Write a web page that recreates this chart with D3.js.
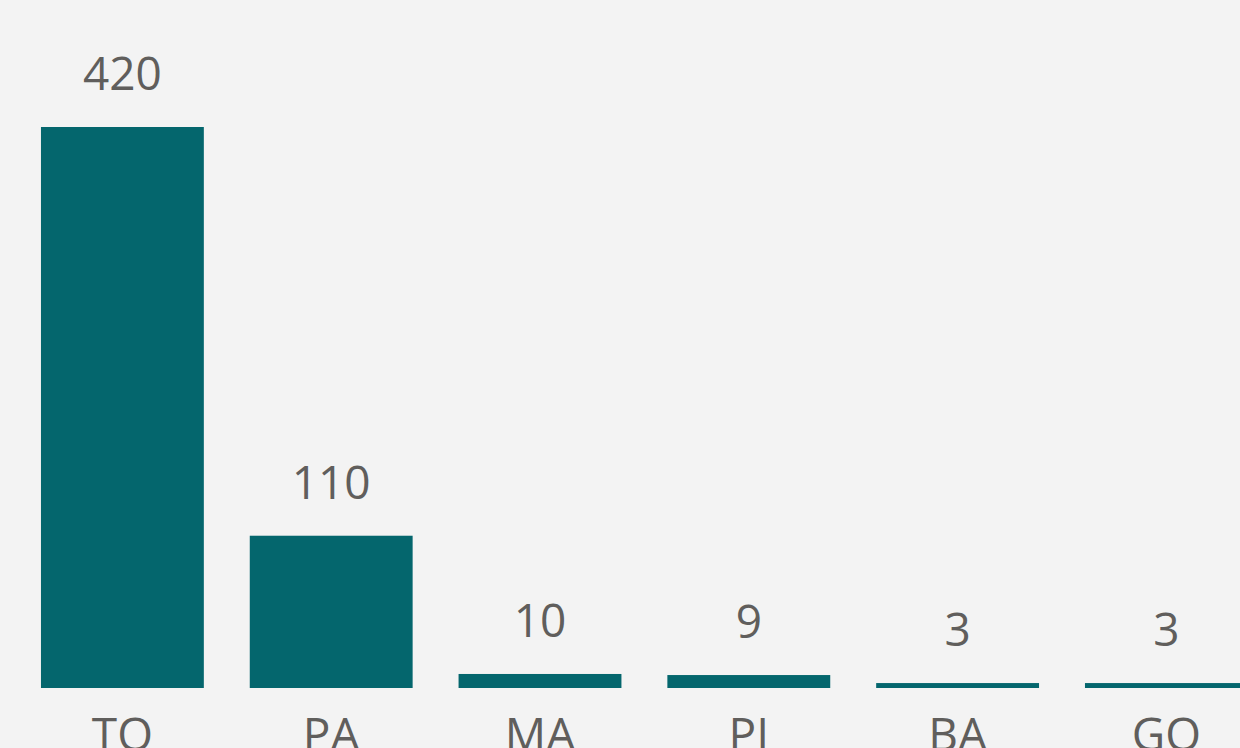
<!DOCTYPE html>
<html>
<head>
<meta charset="utf-8">
<script src="https://cdn.jsdelivr.net/npm/d3@7"></script>
<style>
  html, body { margin: 0; padding: 0; background: #f3f3f3; overflow: hidden; }
  text { font-family: "Segoe UI", "Open Sans", sans-serif; fill: #605e5c; }
</style>
</head>
<body>
<div class="chart"></div>
<script>
var width = 1240, height = 748;

// data
var states = ['TO', 'PA', 'MA', 'PI', 'BA', 'GO'];
var values = [420, 114, 10.5, 9.7, 3.7, 3.7];
var labels = ['420', '110', '10', '9', '3', '3'];

var svg = d3.select('.chart')
  .append('svg')
  .attr('width', width)
  .attr('height', height);

svg.append('rect')
  .attr('width', width)
  .attr('height', height)
  .attr('fill', '#f3f3f3');

var x = d3.scaleBand()
  .domain(states)
  .range([18, 18 + 6 * 208.8])
  .paddingInner(0.22)
  .paddingOuter(0.11);

var y = d3.scaleLinear()
  .domain([0, 420])
  .range([688, 127]);

var data = states.map(function(s, i) {
  return { state: s, value: values[i], label: labels[i] };
});

// bars
svg.selectAll('.bar')
  .data(data)
  .enter()
  .append('rect')
  .attr('class', 'bar')
  .attr('x', function(d) { return x(d.state); })
  .attr('y', function(d) { return y(d.value); })
  .attr('width', x.bandwidth())
  .attr('height', function(d) { return y(0) - y(d.value); })
  .attr('fill', '#04666d');

// value labels
svg.selectAll('.value')
  .data(data)
  .enter()
  .append('text')
  .attr('class', 'value')
  .attr('text-anchor', 'middle')
  .attr('x', function(d) { return x(d.state) + x.bandwidth() / 2; })
  .attr('y', function(d) { return y(d.value) - 37; })
  .style('font-size', '46px')
  .text(function(d) { return d.label; });

// x axis, no line or ticks
var xAxis = svg.append('g')
  .attr('transform', 'translate(0,688)')
  .call(d3.axisBottom(x).tickSize(0).tickPadding(0));

xAxis.select('.domain').remove();
xAxis.selectAll('text')
  .attr('dy', 0)
  .attr('y', 63)
  .style('font-size', '46px')
  .attr('fill', '#605e5c');
</script>
</body>
</html>
